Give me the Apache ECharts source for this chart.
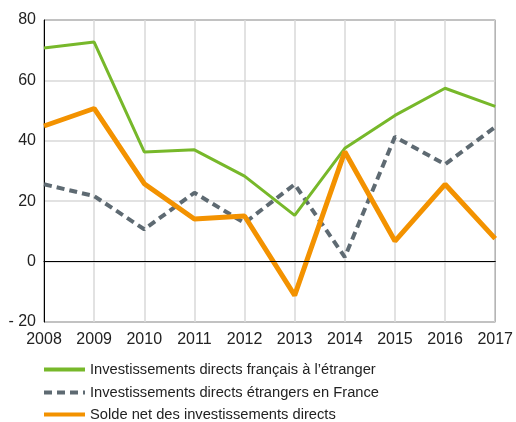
<!DOCTYPE html>
<html><head><meta charset="utf-8">
<script src="https://cdn.jsdelivr.net/npm/echarts@6/dist/echarts.min.js"></script>
<style>html,body{margin:0;padding:0;background:#fff}#c{width:516px;height:422px}</style>
</head><body><div id="c"></div>
<script>
const years = ['2008','2009','2010','2011','2012','2013','2014','2015','2016','2017'];
const seriesNames = ['Investissements directs français à l’étranger','Investissements directs étrangers en France','Solde net des investissements directs'];
const idfe = [70.7, 72.7, 36.3, 37.0, 28.3, 15.3, 37.5, 48.4, 57.4, 51.4];
const idef = [25.6, 21.7, 10.7, 22.8, 12.8, 25.6, 1.5, 41.3, 32.2, 44.6];
const solde = [44.9, 50.7, 25.8, 14.1, 15.1, -11.2, 36.4, 6.8, 25.6, 7.6];
const yTicks = [-20, 0, 20, 40, 60, 80];

const font = '"Liberation Sans", Arial, sans-serif';
const legendTops = [362, 385, 407];
const chart = echarts.init(document.getElementById('c'), null, {renderer:'canvas'});
chart.setOption({
  animation:false,
  backgroundColor:'#fff',
  grid:{left:44,right:19,top:20,bottom:100,show:true,borderColor:'#000',borderWidth:1,backgroundColor:'transparent'},
  xAxis:{type:'category',data:years,boundaryGap:false,
    axisLine:{lineStyle:{color:'#000',width:1}},axisTick:{show:false},
    axisLabel:{color:'#222',fontFamily:font,fontSize:16,margin:10},
    splitLine:{show:true,lineStyle:{color:'#d9d9d9',width:1.5}}},
  yAxis:{type:'value',min:yTicks[0],max:yTicks[yTicks.length-1],interval:20,
    axisLine:{show:true,lineStyle:{color:'#000',width:1}},axisTick:{show:false},
    axisLabel:{color:'#222',fontFamily:font,fontSize:16,margin:8,formatter:v=>v<0?'- '+Math.abs(v):String(v)},
    splitLine:{show:true,lineStyle:{color:'#d9d9d9',width:1.5}}},
  legend: seriesNames.map((n,i)=>({orient:'vertical',left:42,top:legendTops[i],padding:0,
    itemWidth:41,itemHeight:14,itemGap:6,
    itemStyle:{opacity:0},
    lineStyle:{width:4},
    textStyle:{color:'#222',fontFamily:font,fontSize:14.7,lineHeight:14},
    data:[n]})),
  series:[
    {name:seriesNames[0],type:'line',data:idfe,symbol:'none',z:3,
      lineStyle:{color:'#77b82a',width:3},itemStyle:{color:'#77b82a'}},
    {name:seriesNames[1],type:'line',data:idef,symbol:'none',z:2,
      lineStyle:{color:'#5e6a72',width:4,type:[8,5]},itemStyle:{color:'#5e6a72'},
      markLine:{silent:true,symbol:'none',label:{show:false},lineStyle:{color:'#000',width:1,type:'solid'},data:[{yAxis:0}]}},
    {name:seriesNames[2],type:'line',data:solde,symbol:'none',z:4,
      lineStyle:{color:'#f39200',width:5},itemStyle:{color:'#f39200'}}
  ]
});
</script></body></html>
